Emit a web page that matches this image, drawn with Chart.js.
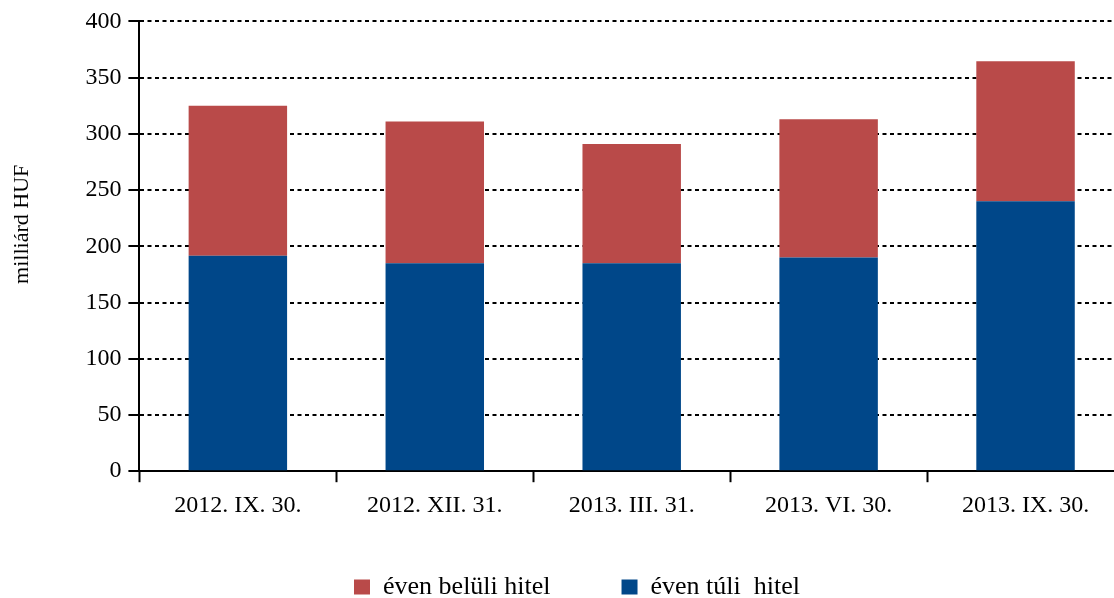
<!DOCTYPE html>
<html>
<head>
<meta charset="utf-8">
<script src="https://cdn.jsdelivr.net/npm/chart.js@4"></script>
<style>
    html, body { margin: 0; padding: 0; background: #fff; overflow: hidden; }
    #wrap { position: relative; width: 1154px; height: 610px; }
</style>
</head>
<body>
<div id="wrap"><canvas id="myChart"></canvas></div>
<script>
// Data (milliárd HUF)
const categories = ['2012. IX. 30.', '2012. XII. 31.', '2013. III. 31.', '2013. VI. 30.', '2013. IX. 30.'];
const evenTuliHitel = [191.5, 185, 185, 190, 240];
const evenBeluliHitel = [133.5, 126, 106, 123, 124.5];
const yMin = 0;
const yMax = 400;
const yStep = 50;

const serif = 'Liberation Serif';
const nbsp = '\u00a0';

new Chart(document.getElementById('myChart'), {
    type: 'bar',
    data: {
        labels: categories,
        datasets: [
            {
                label: 'éven túli  hitel',
                data: evenTuliHitel,
                backgroundColor: 'rgb(0, 71, 137)',
                borderWidth: 0
            },
            {
                label: 'éven belüli hitel',
                data: evenBeluliHitel,
                backgroundColor: 'rgb(185, 74, 73)',
                borderWidth: 0
            }
        ]
    },
    options: {
        responsive: true,
        maintainAspectRatio: false,
        animation: false,
        categoryPercentage: 1,
        barPercentage: 0.5,
        layout: {
            padding: { top: 20, right: 30, left: 30, bottom: 0 }
        },
        plugins: {
            legend: {
                position: 'bottom',
                reverse: true,
                labels: {
                    color: '#000',
                    font: { family: serif, size: 26 },
                    boxWidth: 16,
                    boxHeight: 15,
                    padding: 45,
                    generateLabels: function(chart) {
                        const items = Chart.defaults.plugins.legend.labels.generateLabels(chart);
                        // a bit more room after the first entry
                        items.forEach(function(item) {
                            if (item.datasetIndex === 1) {
                                item.text = item.text + nbsp.repeat(4);
                            }
                        });
                        return items;
                    }
                }
            },
            tooltip: { enabled: false }
        },
        scales: {
            x: {
                stacked: true,
                grid: {
                    drawOnChartArea: false,
                    drawTicks: true,
                    tickLength: 11,
                    tickColor: '#000',
                    tickWidth: 2
                },
                border: { display: true, color: '#000', width: 2 },
                ticks: {
                    color: '#000',
                    font: { family: serif, size: 24 },
                    padding: 9,
                    maxRotation: 0
                }
            },
            y: {
                stacked: true,
                min: yMin,
                max: yMax,
                ticks: {
                    stepSize: yStep,
                    color: '#000',
                    font: { family: serif, size: 24 },
                    padding: 7
                },
                grid: {
                    color: '#000',
                    lineWidth: 2,
                    tickLength: 11,
                    tickColor: '#000',
                    tickWidth: 2,
                    tickBorderDash: [0, 0]
                },
                border: { display: true, color: '#000', width: 2, dash: [4, 3.5] },
                title: {
                    display: true,
                    text: nbsp.repeat(8) + 'milliárd HUF',
                    color: '#000',
                    font: { family: serif, size: 22 },
                    padding: { top: -21, bottom: 43 }
                }
            }
        }
    }
});
</script>
</body>
</html>
